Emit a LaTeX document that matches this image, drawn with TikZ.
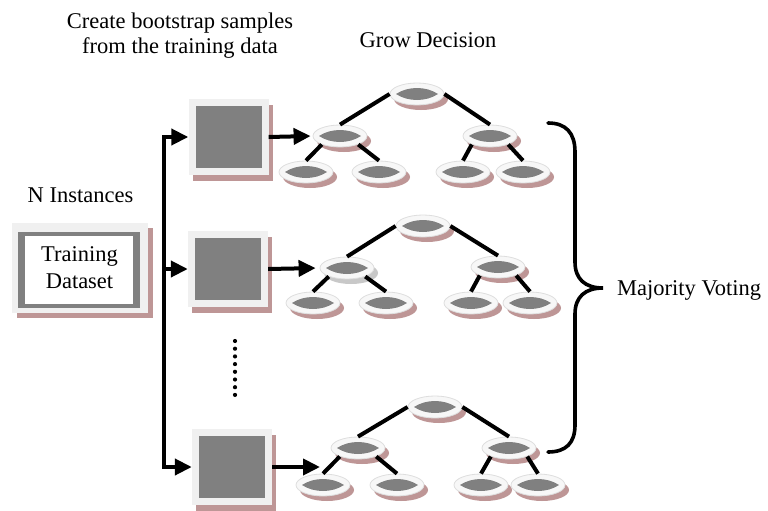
\documentclass[tikz,border=0pt]{standalone}
\usepackage{fontspec}
\setmainfont{Liberation Serif}
\usetikzlibrary{shapes.geometric,shadows,arrows.meta}

\definecolor{shadowrose}{RGB}{190,150,150}
\definecolor{shadowgrey}{RGB}{200,200,200}
\definecolor{panel}{RGB}{240,240,240}
\definecolor{fillgrey}{RGB}{128,128,128}
\definecolor{ringedge}{RGB}{222,222,222}

\begin{document}
\begin{tikzpicture}[x=1pt,y=-1pt,
  txt/.style={inner sep=0pt,font=\fontsize{22.5}{27}\selectfont},
  % oval tree node (ring); the grey lens is added afterwards
  treenode/.style={ellipse,minimum width=54pt,minimum height=22pt,inner sep=0pt,
    fill=white!97!black,draw=ringedge,line width=0.8pt,
    drop shadow={shadow xshift=4pt,shadow yshift=-5pt,fill=#1,opacity=1}},
  treenode/.default=shadowrose,
  % bootstrap sample square
  samplebox/.style={rectangle,minimum width=80pt,minimum height=76pt,inner sep=0pt,
    fill=panel,
    drop shadow={shadow xshift=4pt,shadow yshift=-6pt,fill=shadowrose,opacity=1},
    path picture={
      \fill[fillgrey] ([xshift=7pt,yshift=7pt]path picture bounding box.south west)
        rectangle ([xshift=-7pt,yshift=-7pt]path picture bounding box.north east);}},
  branch/.style={line width=4pt},
  arrowline/.style={line width=4pt,-{Triangle[length=17pt,width=16pt]}},
]
\useasboundingbox (0,0) rectangle (768,511);
\fill[white] (0,0) rectangle (768,511);

% headings
\node[txt,align=center,font=\fontsize{22.5}{25}\selectfont] (bootstrap) at (180,36)
  {Create bootstrap samples\\from the training data};
\node[txt] (grow) at (428,40) {Grow Decision};
\node[txt] (ninst) at (80.5,195) {N Instances};

% training dataset panel
\node[txt,align=center,rectangle,minimum width=136pt,minimum height=90pt,fill=panel,
  drop shadow={shadow xshift=5pt,shadow yshift=-5pt,fill=shadowrose,opacity=1},
  path picture={
    \fill[fillgrey] ([xshift=-61.5pt,yshift=36pt]path picture bounding box.center)
      rectangle ([xshift=60.5pt,yshift=-40pt]path picture bounding box.center);
    \fill[white] ([xshift=-54.5pt,yshift=32pt]path picture bounding box.center)
      rectangle ([xshift=53.5pt,yshift=-36pt]path picture bounding box.center);}]
  (train) at (79.5,268) {Training\\Dataset};

% bootstrap samples
\node[samplebox] (box1) at (228.5,137) {};
\node[samplebox] (box2) at (228,269) {};
\node[samplebox] (box3) at (232,467) {};

% distribution bus
\coordinate (bus2) at (164,269);
\coordinate (bus3) at (164,467);
\draw[line width=4pt,{Triangle[length=17pt,width=16pt]}-{Triangle[length=17pt,width=16pt]}]
  (box1.west) -| (bus3) -- (box3.west);
\draw[arrowline] (bus2) -- (box2.west);

% ellipsis dots between samples
\foreach \i in {0,...,7} \fill (235,341+\i*7.7) circle[radius=2.1pt];

% tree 1
\node[treenode] (t1r) at (417,94) {};
\node[treenode] (t1a) at (340,136) {};
\node[treenode] (t1b) at (490,136) {};
\node[treenode] (t1c) at (306,172) {};
\node[treenode] (t1d) at (379,172) {};
\node[treenode] (t1e) at (463,172) {};
\node[treenode] (t1f) at (523,172) {};

% tree 2
\node[treenode] (t2r) at (423,226) {};
\node[treenode=shadowgrey] (t2a) at (347,268) {};
\node[treenode] (t2b) at (498,267) {};
\node[treenode] (t2c) at (313,303) {};
\node[treenode] (t2d) at (386,303) {};
\node[treenode] (t2e) at (471,303) {};
\node[treenode] (t2f) at (530,303) {};

% tree 3
\node[treenode] (t3r) at (435,407) {};
\node[treenode] (t3a) at (358,448) {};
\node[treenode] (t3b) at (509,448) {};
\node[treenode] (t3c) at (323,485) {};
\node[treenode] (t3d) at (397,485) {};
\node[treenode] (t3e) at (481,485) {};
\node[treenode] (t3f) at (538,485) {};

% grey pointed lens inside every tree node
\foreach \t in {t1,t2,t3}{
  \foreach \n in {r,a,b,c,d,e,f}{
    \fill[fillgrey] ([xshift=-21pt]\t\n.center)
      .. controls ([xshift=-9pt,yshift=8pt]\t\n.center) and ([xshift=9pt,yshift=8pt]\t\n.center)
      .. ([xshift=21pt]\t\n.center)
      .. controls ([xshift=9pt,yshift=-8pt]\t\n.center) and ([xshift=-9pt,yshift=-8pt]\t\n.center)
      .. ([xshift=-21pt]\t\n.center) -- cycle;
  }
}

% branches
\foreach \t in {t1,t2,t3}{
  \draw[branch] (\t r.west) -- (\t a.north);
  \draw[branch] (\t r.east) -- (\t b.north);
  \draw[branch] (\t a.205) -- (\t c.north);
  \draw[branch] (\t a.335) -- (\t d.north);
  \draw[branch] (\t b.205) -- (\t e.north);
  \draw[branch] (\t b.335) -- (\t f.north);
}

% sample to tree arrows
\coordinate (t3in) at (320,467);
\draw[arrowline,shorten >=2pt] (box1.east) -- (t1a.west);
\draw[arrowline,shorten >=4pt] (box2.east) -- (t2a.west);
\draw[arrowline] (box3.east) -- (t3in);

% curly brace gathering the trees
\draw[line width=3.6pt,line cap=round]
  (548,123) .. controls (566,123) and (575,133) .. (575,152)
  -- (575,262) .. controls (575,279) and (585,288) .. (603,288)
  .. controls (585,288) and (575,297) .. (575,314)
  -- (575,425) .. controls (575,443) and (566,452) .. (548,452);

\node[txt,anchor=base west] (vote) at (617,295.5) {Majority Voting};
\end{tikzpicture}
\end{document}
